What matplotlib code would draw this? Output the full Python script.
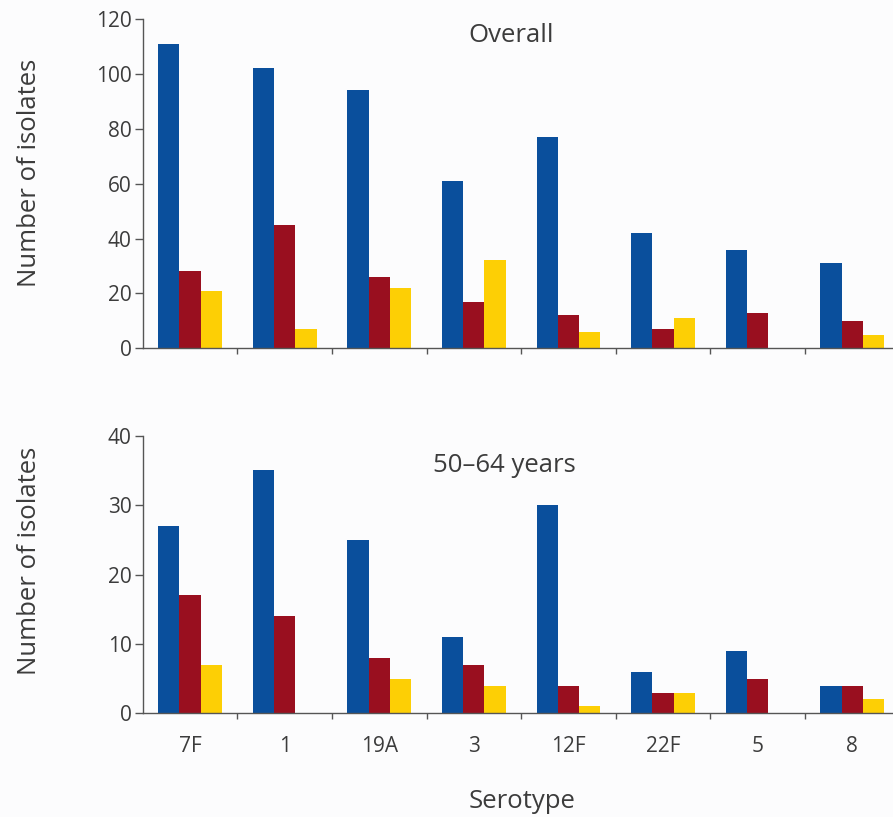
import matplotlib
matplotlib.use("Agg")
import matplotlib.pyplot as plt
import numpy as np

plt.rcParams['font.family'] = ['Open Sans', 'DejaVu Sans']

serotypes = ["7F", "1", "19A", "3", "12F", "22F", "5", "8"]

# Overall panel
overall_blue = [111, 102, 94, 61, 77, 42, 36, 31]
overall_red = [28, 45, 26, 17, 12, 7, 13, 10]
overall_yellow = [21, 7, 22, 32, 6, 11, 0, 5]

# 50-64 years panel
age_blue = [27, 35, 25, 11, 30, 6, 9, 4]
age_red = [17, 14, 8, 7, 4, 3, 5, 4]
age_yellow = [7, 0, 5, 4, 1, 3, 0, 2]

top_ticks = [0, 20, 40, 60, 80, 100, 120]
bottom_ticks = [0, 10, 20, 30, 40]

colors = ["#0a4f9c", "#990f1f", "#fdcf05"]
text_color = "#3c3c3c"
axis_color = "#555555"
bg = "#fcfcfd"

fig = plt.figure(figsize=(8.93, 8.17), dpi=100, facecolor=bg)
ax1 = fig.add_axes([0.1598, 0.5737, 1.0 - 0.1598, 0.9767 - 0.5737])
ax2 = fig.add_axes([0.1598, 0.1269, 1.0 - 0.1598, 0.4667 - 0.1269])

x = np.arange(len(serotypes))
w = 0.225

def draw(ax, series, ticks, title, tx, ty, ly):
    ax.set_facecolor(bg)
    for k, (vals, c) in enumerate(zip(series, colors)):
        ax.bar(x + (k - 1) * w, vals, width=w, color=c, linewidth=0)
    ax.set_xlim(-0.5, 7.43)
    ax.set_ylim(0, ticks[-1])
    ax.set_yticks(ticks)
    ax.set_yticklabels([str(t) for t in ticks], fontsize=15, color=text_color)
    ax.set_xticks(x)
    ax.set_xticks(np.arange(0.5, 7.5, 1.0), minor=True)
    ax.tick_params(axis='x', which='major', length=0, pad=16)
    ax.tick_params(axis='x', which='minor', length=4, direction='out', color=axis_color, width=1)
    ax.tick_params(axis='y', length=6, direction='out', color=axis_color, width=1, pad=2)
    for s in ['top', 'right']:
        ax.spines[s].set_visible(False)
    for s in ['left', 'bottom']:
        ax.spines[s].set_color(axis_color)
        ax.spines[s].set_linewidth(1)
    ax.set_ylabel("Number of isolates", fontsize=18.5, color=text_color)
    ax.yaxis.set_label_coords(-0.134, ly)
    ax.text(tx, ty, title, transform=ax.transAxes, ha='center', va='center',
            fontsize=18.5, color=text_color)

draw(ax1, [overall_blue, overall_red, overall_yellow], top_ticks, "Overall", 0.4915, 0.95, 0.532)
draw(ax2, [age_blue, age_red, age_yellow], bottom_ticks, "50\u201364 years", 0.4815, 0.894, 0.549)

ax1.set_xticklabels([])
ax2.set_xticklabels(serotypes, fontsize=15, color=text_color)
ax2.set_xlabel("Serotype", fontsize=18.5, color=text_color)
ax2.xaxis.set_label_coords(0.506, -0.272)

fig.savefig("out.png", dpi=100, facecolor=bg)
